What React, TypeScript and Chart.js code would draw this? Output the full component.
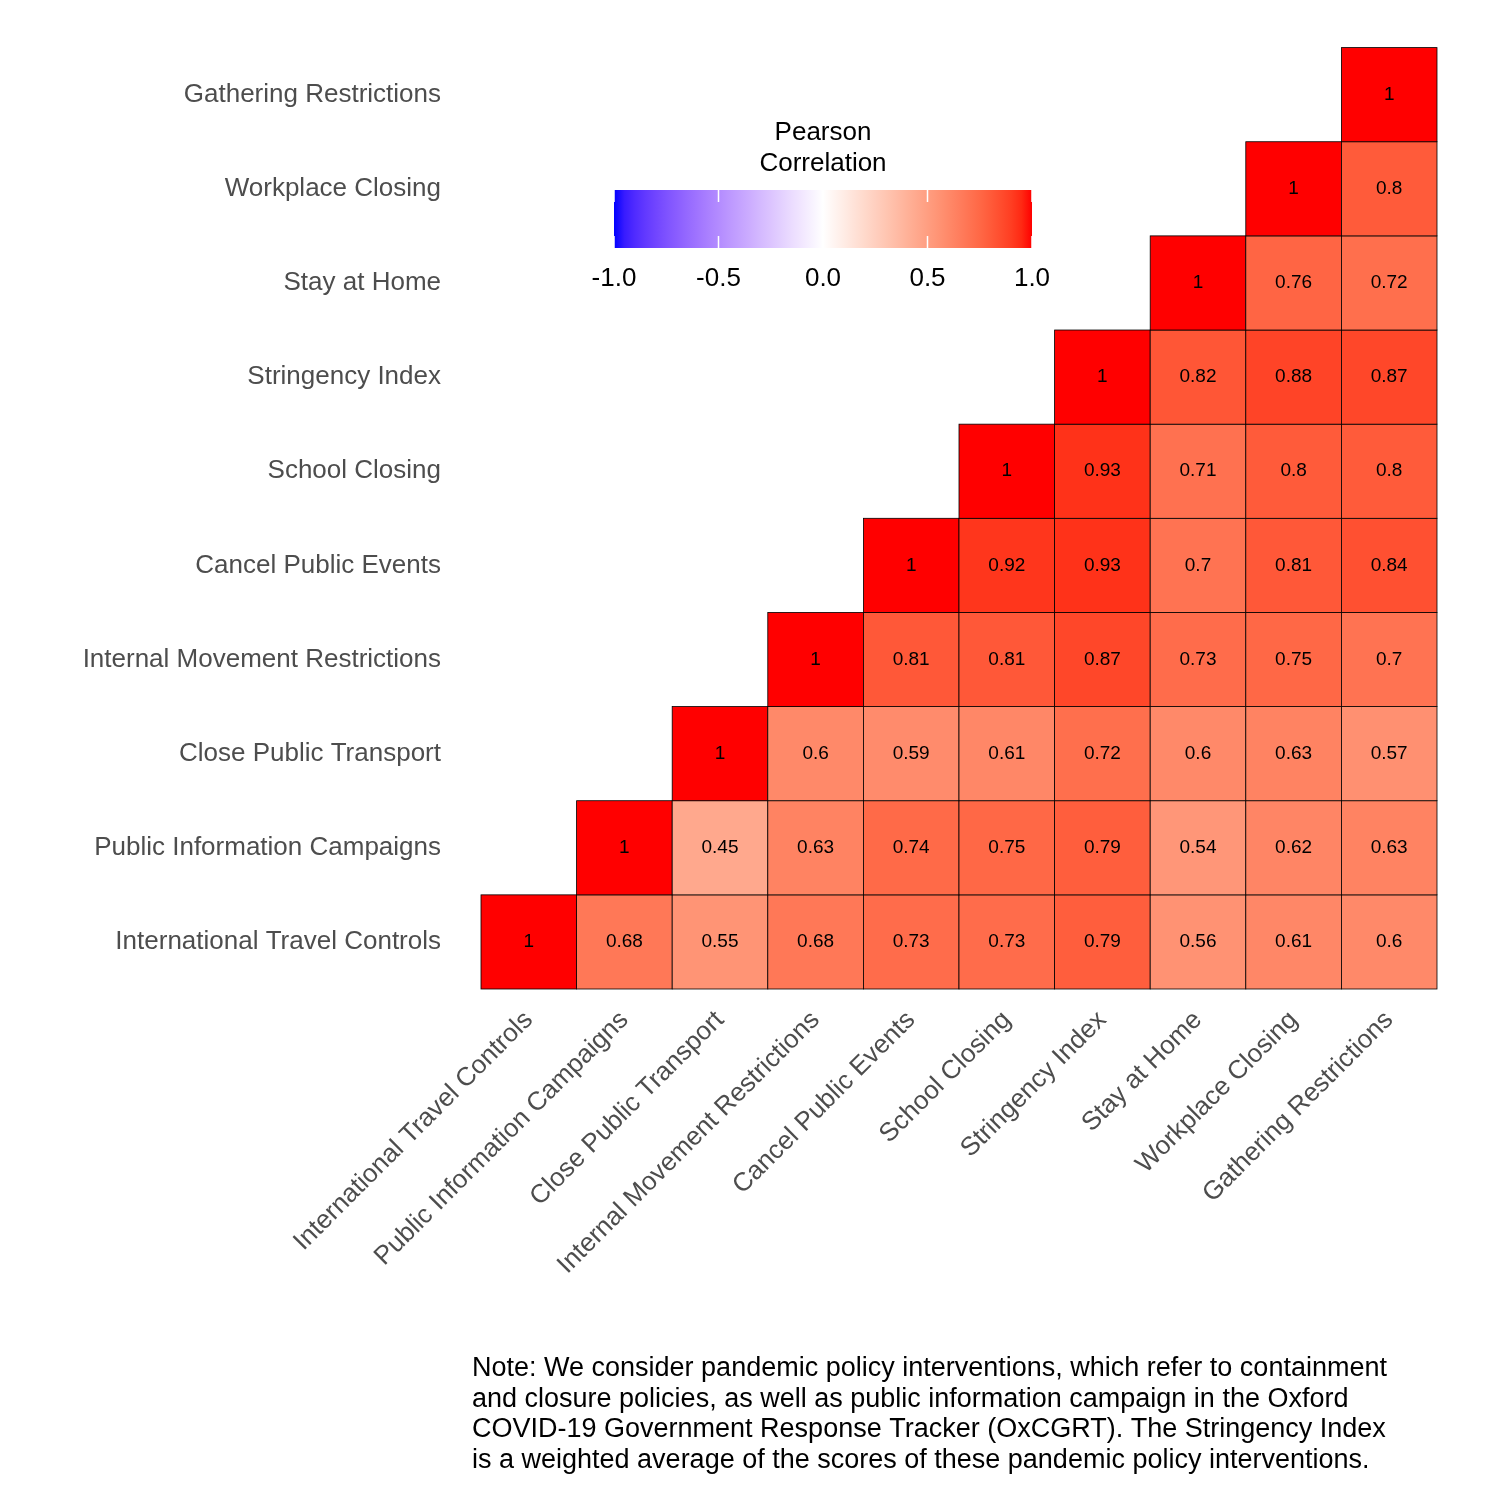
import { Chart, registerables } from "chart.js";
import { useEffect, useRef } from "react";

Chart.register(...registerables);

const VARIABLES = [
  "International Travel Controls",
  "Public Information Campaigns",
  "Close Public Transport",
  "Internal Movement Restrictions",
  "Cancel Public Events",
  "School Closing",
  "Stringency Index",
  "Stay at Home",
  "Workplace Closing",
  "Gathering Restrictions",
];

// each row y holds the cells for x = y .. 9
const ROW_ITC = [1, 0.68, 0.55, 0.68, 0.73, 0.73, 0.79, 0.56, 0.61, 0.6];
const ROW_PIC = [1, 0.45, 0.63, 0.74, 0.75, 0.79, 0.54, 0.62, 0.63];
const ROW_CPT = [1, 0.6, 0.59, 0.61, 0.72, 0.6, 0.63, 0.57];
const ROW_IMR = [1, 0.81, 0.81, 0.87, 0.73, 0.75, 0.7];
const ROW_CPE = [1, 0.92, 0.93, 0.7, 0.81, 0.84];
const ROW_SC = [1, 0.93, 0.71, 0.8, 0.8];
const ROW_SI = [1, 0.82, 0.88, 0.87];
const ROW_SAH = [1, 0.76, 0.72];
const ROW_WC = [1, 0.8];
const ROW_GR = [1];
const ROWS = [ROW_ITC, ROW_PIC, ROW_CPT, ROW_IMR, ROW_CPE, ROW_SC, ROW_SI, ROW_SAH, ROW_WC, ROW_GR];

const LEGEND_TICKS = [-1, -0.5, 0, 0.5, 1];
const NOTE = [
  "Note: We consider pandemic policy interventions, which refer to containment",
  "and closure policies, as well as public information campaign in the Oxford",
  "COVID-19 Government Response Tracker (OxCGRT). The Stringency Index",
  "is a weighted average of the scores of these pandemic policy interventions.",
];

const FONT = "'Liberation Sans', Arial, sans-serif";

// Lab interpolation like ggplot's gradient2
function toLin(c: number) {
  c /= 255;
  return c <= 0.04045 ? c / 12.92 : Math.pow((c + 0.055) / 1.055, 2.4);
}
function fromLin(c: number) {
  const v = c <= 0.0031308 ? 12.92 * c : 1.055 * Math.pow(c, 1 / 2.4) - 0.055;
  return Math.round(Math.max(0, Math.min(1, v)) * 255);
}
const WP = [0.95047, 1, 1.08883];
function rgbToLab([r, g, b]: number[]) {
  const R = toLin(r), G = toLin(g), B = toLin(b);
  const xyz = [
    R * 0.4124 + G * 0.3576 + B * 0.1805,
    R * 0.2126 + G * 0.7152 + B * 0.0722,
    R * 0.0193 + G * 0.1192 + B * 0.9505,
  ].map((v, i) => v / WP[i]);
  const f = (t: number) => (t > 0.008856 ? Math.cbrt(t) : 7.787 * t + 16 / 116);
  const [fx, fy, fz] = xyz.map(f);
  return [116 * fy - 16, 500 * (fx - fy), 200 * (fy - fz)];
}
function labToRgb([L, a, b]: number[]) {
  const fy = (L + 16) / 116, fx = fy + a / 500, fz = fy - b / 200;
  const finv = (t: number) => (t ** 3 > 0.008856 ? t ** 3 : (t - 16 / 116) / 7.787);
  const [X, Y, Z] = [finv(fx) * WP[0], finv(fy) * WP[1], finv(fz) * WP[2]];
  const R = X * 3.2406 + Y * -1.5372 + Z * -0.4986;
  const G = X * -0.9689 + Y * 1.8758 + Z * 0.0415;
  const B = X * 0.0557 + Y * -0.204 + Z * 1.057;
  return `rgb(${fromLin(R)},${fromLin(G)},${fromLin(B)})`;
}
const LAB_BLUE = rgbToLab([0, 0, 255]);
const LAB_WHITE = rgbToLab([255, 255, 255]);
const LAB_RED = rgbToLab([255, 0, 0]);
function corrColor(v: number) {
  const end = v < 0 ? LAB_BLUE : LAB_RED;
  const t = Math.min(1, Math.abs(v));
  return labToRgb(LAB_WHITE.map((w, i) => w + (end[i] - w) * t));
}

const heatPlugin = {
  id: "heat",
  afterDatasetsDraw(chart: any) {
    const { ctx, scales } = chart;
    const xs = scales.x, ys = scales.y;
    ctx.save();
    ROWS.forEach((row, y) => {
      row.forEach((v, k) => {
        const x = y + k;
        const l = xs.getPixelForValue(x - 0.5), r = xs.getPixelForValue(x + 0.5);
        const t = ys.getPixelForValue(y + 0.5), b = ys.getPixelForValue(y - 0.5);
        ctx.fillStyle = corrColor(v);
        ctx.fillRect(l, t, r - l, b - t);
        ctx.strokeStyle = "#000";
        ctx.lineWidth = 0.8;
        ctx.strokeRect(l, t, r - l, b - t);
        ctx.fillStyle = "#000";
        ctx.font = `19px ${FONT}`;
        ctx.textAlign = "center";
        ctx.textBaseline = "middle";
        ctx.fillText(String(v), (l + r) / 2, (t + b) / 2);
      });
    });

    // colour bar
    const bx0 = 614, bx1 = 1032, by0 = 190, by1 = 248;
    const grad = ctx.createLinearGradient(bx0, 0, bx1, 0);
    for (let i = 0; i <= 40; i++) grad.addColorStop(i / 40, corrColor(-1 + i / 20));
    ctx.fillStyle = grad;
    ctx.fillRect(bx0, by0, bx1 - bx0, by1 - by0);
    ctx.fillStyle = "#000";
    ctx.font = `26px ${FONT}`;
    ctx.textAlign = "center";
    ctx.textBaseline = "alphabetic";
    ctx.fillText("Pearson", 823, 140);
    ctx.fillText("Correlation", 823, 171);
    LEGEND_TICKS.forEach((v) => {
      const px = bx0 + ((v + 1) / 2) * (bx1 - bx0);
      ctx.strokeStyle = "#fff";
      ctx.lineWidth = 1.5;
      ctx.beginPath();
      ctx.moveTo(px, by0); ctx.lineTo(px, by0 + 12);
      ctx.moveTo(px, by1); ctx.lineTo(px, by1 - 12);
      ctx.stroke();
      ctx.fillStyle = "#000";
      ctx.fillText(v.toFixed(1), px, 286);
    });

    // note
    ctx.textAlign = "left";
    ctx.font = `27px ${FONT}`;
    NOTE.forEach((line, i) => ctx.fillText(line, 472, 1376 + i * 30.5));
    ctx.restore();
  },
};

export default function App() {
  const canvasRef = useRef<HTMLCanvasElement | null>(null);
  useEffect(() => {
    if (!canvasRef.current) return;
    const points = ROWS.flatMap((row, y) => row.map((v, k) => ({ x: y + k, y, v })));
    const chart = new Chart(canvasRef.current, {
      type: "scatter",
      data: { datasets: [{ data: points, pointRadius: 0, pointHoverRadius: 0 }] },
      options: {
        responsive: false,
        animation: false,
        layout: { padding: { top: 32, right: 63 } },
        plugins: { legend: { display: false }, tooltip: { enabled: false } },
        scales: {
          x: {
            type: "linear",
            min: -0.5,
            max: 9.5,
            grid: { display: false },
            border: { display: false },
            afterFit: (s: any) => { s.height = 511; },
            afterBuildTicks: (s: any) => { s.ticks = VARIABLES.map((_, i) => ({ value: i })); },
            ticks: {
              autoSkip: false,
              minRotation: 45,
              maxRotation: 45,
              padding: 8,
              color: "#4d4d4d",
              font: { size: 26, family: FONT },
              callback: (v: any) => VARIABLES[v] ?? "",
            },
          },
          y: {
            type: "linear",
            min: -0.5,
            max: 9.5,
            grid: { display: false },
            border: { display: false },
            afterFit: (s: any) => { s.width = 481; },
            afterBuildTicks: (s: any) => { s.ticks = VARIABLES.map((_, i) => ({ value: i })); },
            ticks: {
              autoSkip: false,
              padding: 32,
              color: "#4d4d4d",
              font: { size: 26, family: FONT },
              callback: (v: any) => VARIABLES[v] ?? "",
            },
          },
        },
      },
      plugins: [heatPlugin],
    });
    return () => chart.destroy();
  }, []);
  return (
    <div style={{ position: "absolute", left: 0, top: 0, width: 1500, height: 1500, background: "#fff" }}>
      <canvas ref={canvasRef} width={1500} height={1500} />
    </div>
  );
}
